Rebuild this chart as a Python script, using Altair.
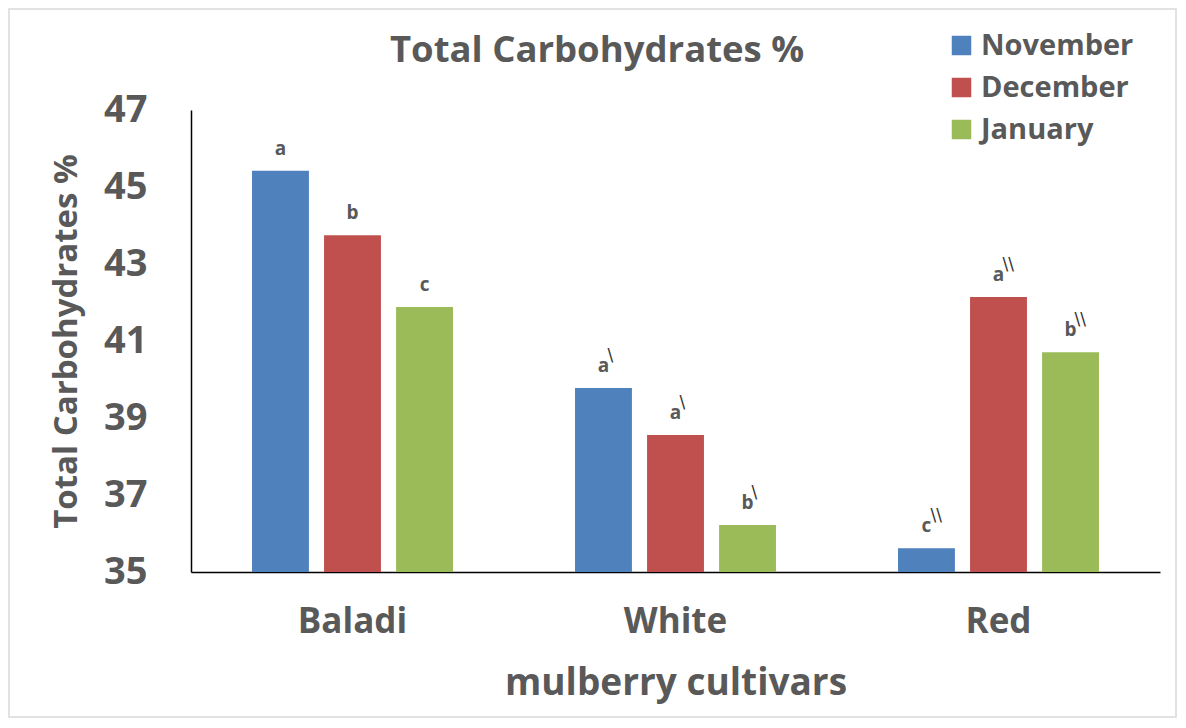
import altair as alt
import pandas as pd

cultivars = ["Baladi", "White", "Red"]
months = ["November", "December", "January"]
values = {
    "Baladi": [45.42, 43.75, 41.88],
    "White": [39.78, 38.56, 36.22],
    "Red": [35.62, 42.14, 40.71],
}
letters = {
    "Baladi": ["a", "b", "c"],
    "White": ["a", "a", "b"],
    "Red": ["c", "a", "b"],
}
marks = {
    "Baladi": ["", "", ""],
    "White": ["\\", "\\", "\\"],
    "Red": ["\\\\", "\\\\", "\\\\"],
}
colors = ["#4F81BD", "#C0504D", "#9BBB59"]

rows = []
for c in cultivars:
    for i, m in enumerate(months):
        rows.append({"cultivar": c, "month": m, "value": values[c][i], "base": 35,
                     "letter": letters[c][i], "mark": marks[c][i]})
df = pd.DataFrame(rows)

FONT = "Open Sans"
GRAY = "#595959"
W, H = 969, 462

x = alt.X("cultivar:N", sort=cultivars,
          scale=alt.Scale(paddingInner=0.331, paddingOuter=0.1655),
          axis=alt.Axis(title="mulberry cultivars", labelAngle=0, ticks=False,
                        domainColor="#000000", domainWidth=1.5,
                        labelFont=FONT, labelFontSize=35, labelFontWeight="bold",
                        labelColor=GRAY, labelPadding=32,
                        titleFont=FONT, titleFontSize=37, titleFontWeight="bold",
                        titleColor=GRAY, titlePadding=26))
xo = alt.XOffset("month:N", sort=months,
                 scale=alt.Scale(paddingInner=0.21, paddingOuter=0.105))
y = alt.Y("value:Q",
          scale=alt.Scale(domain=[35, 47], nice=False, zero=False),
          axis=alt.Axis(title="Total Carbohydrates %", values=[35, 37, 39, 41, 43, 45, 47],
                        grid=False, ticks=False, domainColor="#000000", domainWidth=1.5,
                        labelFont=FONT, labelFontSize=38, labelFontWeight="bold",
                        labelColor=GRAY, labelPadding=44,
                        titleFont=FONT, titleFontSize=33, titleFontWeight="bold",
                        titleColor=GRAY, titlePadding=20))

base = alt.Chart(df)

bars = base.mark_bar().encode(
    x=x, xOffset=xo, y=y, y2="base:Q",
    color=alt.Color("month:N", sort=months,
                    scale=alt.Scale(domain=months, range=colors),
                    legend=alt.Legend(title=None, orient="none", legendX=756, legendY=-79,
                                      symbolType="square", symbolSize=380,
                                      symbolStrokeWidth=0, symbolOpacity=1,
                                      labelFont=FONT, labelFontSize=29,
                                      labelFontWeight="bold", labelColor=GRAY,
                                      rowPadding=12, labelOffset=5)),
)

lbl = base.mark_text(font=FONT, fontSize=19, fontWeight="bold", color=GRAY,
                     baseline="bottom", dy=-12).encode(
    x=x, xOffset=xo, y=y, text="letter:N")

mk = base.mark_text(font="DejaVu Sans", fontSize=17, color="#333333",
                    baseline="bottom", align="left", dx=4, dy=-23).encode(
    x=x, xOffset=xo, y=y, text="mark:N")

title = alt.Chart(pd.DataFrame({"t": ["Total Carbohydrates %"]})).mark_text(
    font=FONT, fontSize=36.5, fontWeight="bold", color=GRAY, baseline="middle"
).encode(x=alt.value(406), y=alt.value(-59), text="t:N")

border = alt.Chart(pd.DataFrame({"k": [0]})).mark_rect(
    fill="white", fillOpacity=0, stroke="#d9d9d9", strokeWidth=1.5, clip=False
).encode(x=alt.value(-182), x2=alt.value(985), y=alt.value(-101), y2=alt.value(607))

chart = alt.layer(border, bars, lbl, mk, title).properties(
    width=W, height=H,
    autosize=alt.AutoSizeParams(type="none"),
    padding={"left": 183, "top": 102, "right": 18, "bottom": 148},
    background="white",
).configure_view(stroke=None)

chart.save("out.html", embed_options={"renderer": "svg", "actions": False})
